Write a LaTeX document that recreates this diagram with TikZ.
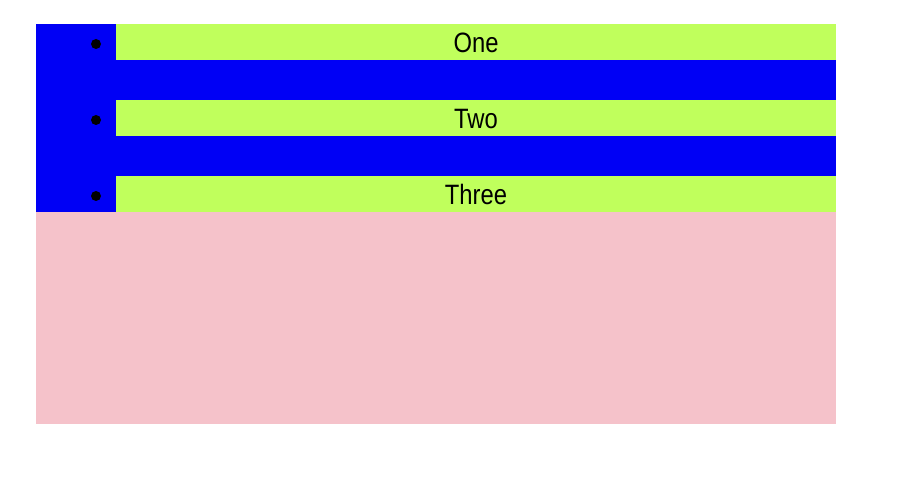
\documentclass[tikz,border=0pt]{standalone}
\usepackage{fontspec}
\setmainfont{Liberation Sans}[FakeStretch=0.85]
\definecolor{listblue}{RGB}{0,0,245}
\definecolor{itemgreen}{RGB}{192,255,92}
\definecolor{boxpink}{RGB}{245,194,202}
\begin{document}
\begin{tikzpicture}[x=1pt,y=-1pt]
\useasboundingbox (0,0) rectangle (902,486);
\fill[boxpink] (36,212) rectangle (836,424);
\fill[listblue] (36,24) rectangle (836,212);
\fill[itemgreen] (116,24) rectangle (836,60);
\fill[itemgreen] (116,100) rectangle (836,136);
\fill[itemgreen] (116,176) rectangle (836,212);
\fill[black] (96,44) circle (5);
\fill[black] (96,120) circle (5);
\fill[black] (96,196) circle (5);
\node[anchor=base,inner sep=0] (one) at (476,53){\fontsize{28}{30}\selectfont One};
\node[anchor=base,inner sep=0] (two) at (476,129){\fontsize{28}{30}\selectfont Two};
\node[anchor=base,inner sep=0] (three) at (476,205){\fontsize{28}{30}\selectfont Three};
\end{tikzpicture}
\end{document}
